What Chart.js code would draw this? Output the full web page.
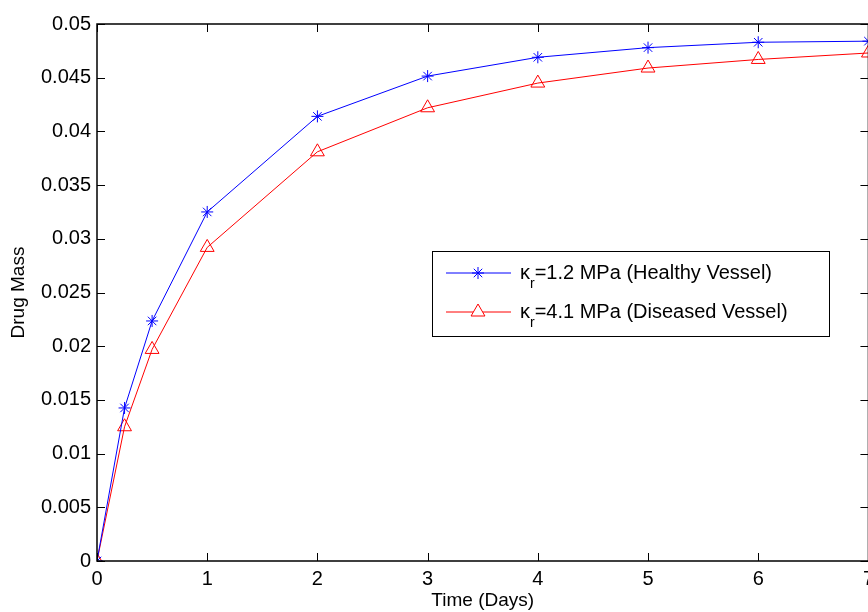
<!DOCTYPE html>
<html>
<head>
<meta charset="utf-8">
<script src="https://cdn.jsdelivr.net/npm/chart.js@4"></script>
<style>
  html, body { margin: 0; padding: 0; overflow: hidden; background: #fff; }
  #wrap { width: 880px; height: 612px; }
</style>
</head>
<body>
<div id="wrap"><canvas id="chartDrug" width="880" height="612"></canvas></div>
<script>
// data
var days = [0, 0.25, 0.5, 1, 2, 3, 4, 5, 6, 7];
var healthy = [0, 0.01425, 0.02235, 0.0325, 0.0414, 0.04515, 0.0469, 0.0478, 0.0483, 0.0484];
var diseased = [0, 0.0125, 0.0197, 0.0292, 0.0381, 0.0422, 0.0445, 0.0459, 0.0467, 0.0473];
var xTicks = [0, 1, 2, 3, 4, 5, 6, 7];
var yTicks = [0, 0.005, 0.01, 0.015, 0.02, 0.025, 0.03, 0.035, 0.04, 0.045, 0.05];
var legendNames = [
  { kappa: '1.2 MPa (Healthy Vessel)' },
  { kappa: '4.1 MPa (Diseased Vessel)' }
];

var FONT = '"Liberation Sans", Arial, Helvetica, sans-serif';

function toPoints(xs, ys) {
  return xs.map(function (x, i) { return { x: x, y: ys[i] }; });
}

// matlab style box with inward ticks
var boxPlugin = {
  id: 'boxTicks',
  afterDraw: function (chart) {
    var ctx = chart.ctx;
    var a = chart.chartArea;
    var sx = chart.scales.x, sy = chart.scales.y;
    ctx.save();
    ctx.strokeStyle = '#000';
    ctx.lineWidth = 1.5;
    ctx.beginPath();
    ctx.rect(a.left, a.top, a.right - a.left, a.bottom - a.top);
    ctx.stroke();
    ctx.lineWidth = 1;
    ctx.beginPath();
    xTicks.forEach(function (t) {
      var px = Math.round(sx.getPixelForValue(t)) + 0.5;
      ctx.moveTo(px, a.bottom); ctx.lineTo(px, a.bottom - 8);
      ctx.moveTo(px, a.top); ctx.lineTo(px, a.top + 8);
    });
    yTicks.forEach(function (t) {
      var py = Math.round(sy.getPixelForValue(t)) + 0.5;
      ctx.moveTo(a.left, py); ctx.lineTo(a.left + 8, py);
      ctx.moveTo(a.right, py); ctx.lineTo(a.right - 8, py);
    });
    ctx.stroke();
    ctx.restore();
  }
};

// legend box with kappa_r subscript
var legendPlugin = {
  id: 'kappaLegend',
  afterDraw: function (chart) {
    var ctx = chart.ctx;
    var x0 = 432, y0 = 251, w = 397, h = 85;
    ctx.save();
    ctx.fillStyle = '#fff';
    ctx.fillRect(x0, y0, w, h);
    ctx.strokeStyle = '#000';
    ctx.lineWidth = 1;
    ctx.strokeRect(x0 + 0.5, y0 + 0.5, w, h);
    chart.data.datasets.forEach(function (ds, i) {
      var cy = 273 + i * 39;
      ctx.strokeStyle = ds.borderColor;
      ctx.lineWidth = 1;
      ctx.beginPath();
      ctx.moveTo(446, cy); ctx.lineTo(511, cy);
      ctx.stroke();
      ctx.fillStyle = '#fff';
      Chart.helpers.drawPoint(ctx, {
        pointStyle: ds.pointStyle, radius: ds.pointRadius, borderWidth: 1
      }, 478, cy);
      ctx.fillStyle = '#000';
      ctx.textBaseline = 'middle';
      ctx.font = '20px ' + FONT;
      ctx.fillText('\u03ba', 520, cy);
      var kw = ctx.measureText('\u03ba').width;
      ctx.font = '14px ' + FONT;
      ctx.fillText('r', 520 + kw, cy + 11);
      var rw = ctx.measureText('r').width;
      ctx.font = '20px ' + FONT;
      ctx.fillText('=' + legendNames[i].kappa, 520 + kw + rw, cy);
    });
    ctx.restore();
  }
};

var ctx = document.getElementById('chartDrug').getContext('2d');
var chartDrug = new Chart(ctx, {
  type: 'line',
  data: {
    datasets: [{
      label: 'healthy',
      data: toPoints(days, healthy),
      borderColor: 'rgb(0, 0, 255)',
      backgroundColor: 'rgb(0, 0, 255)',
      borderWidth: 1,
      pointStyle: 'star',
      pointRadius: 6,
      pointBorderWidth: 1,
      fill: false,
      tension: 0
    }, {
      label: 'diseased',
      data: toPoints(days, diseased),
      borderColor: 'rgb(255, 0, 0)',
      backgroundColor: 'rgba(0, 0, 0, 0)',
      borderWidth: 1,
      pointStyle: 'triangle',
      pointRadius: 8,
      pointBorderWidth: 1,
      fill: false,
      tension: 0
    }]
  },
  options: {
    responsive: false,
    animation: false,
    layout: { padding: { top: 24, right: 11, left: 0, bottom: 0 } },
    plugins: {
      legend: { display: false },
      tooltip: { enabled: false }
    },
    scales: {
      x: {
        type: 'linear',
        min: 0,
        max: 7,
        grid: { display: false, drawTicks: false },
        border: { display: false },
        afterBuildTicks: function (s) { s.ticks = xTicks.map(function (v) { return { value: v }; }); },
        afterFit: function (s) { s.height = 51; },
        ticks: {
          color: '#000',
          padding: 6,
          maxRotation: 0,
          font: { family: FONT, size: 20 }
        },
        title: {
          display: true,
          text: 'Time (Days)',
          color: '#000',
          padding: { top: 0, bottom: 0 },
          font: { family: FONT, size: 19 }
        }
      },
      y: {
        min: 0,
        max: 0.05,
        grid: { display: false, drawTicks: false },
        border: { display: false },
        afterBuildTicks: function (s) { s.ticks = yTicks.map(function (v) { return { value: v }; }); },
        afterFit: function (s) { s.width = 97; },
        ticks: {
          color: '#000',
          padding: 6,
          font: { family: FONT, size: 20 },
          callback: function (v) { return String(Number(v.toFixed(3))); }
        },
        title: {
          display: true,
          text: 'Drug Mass',
          color: '#000',
          padding: { top: 7, bottom: 0 },
          font: { family: FONT, size: 19 }
        }
      }
    }
  },
  plugins: [boxPlugin, legendPlugin]
});
</script>
</body>
</html>
